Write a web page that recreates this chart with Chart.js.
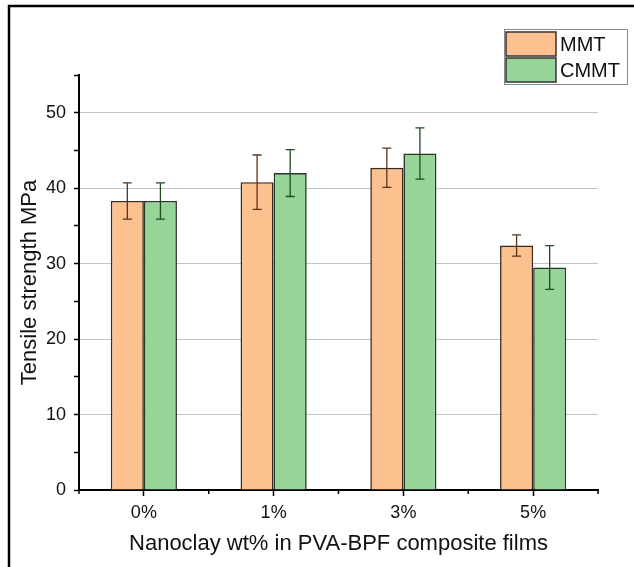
<!DOCTYPE html>
<html>
<head>
<meta charset="utf-8">
<script src="https://cdn.jsdelivr.net/npm/chart.js@4.4.1/dist/chart.umd.min.js"></script>
<style>
  html, body { margin: 0; padding: 0; background: #fff; }
  #c { display: block; }
</style>
</head>
<body>
<canvas id="c" width="634" height="567"></canvas>
<script>
const categories = ['0%', '1%', '3%', '5%'];
const seriesNames = ['MMT', 'CMMT'];
const mmtValues = [38.3, 40.8, 42.7, 32.4];
const cmmtValues = [38.3, 42.0, 44.6, 29.5];
const mmtErrors = [2.4, 3.6, 2.6, 1.4];
const cmmtErrors = [2.4, 3.1, 3.4, 2.9];
const yTickValues = [0, 10, 20, 30, 40, 50];

const FONT = '"Liberation Sans", Arial, sans-serif';

const errorBarPlugin = {
  id: 'errorBars',
  afterDatasetsDraw(chart) {
    const ctx = chart.ctx;
    const y = chart.scales.y;
    chart.data.datasets.forEach((ds, di) => {
      const meta = chart.getDatasetMeta(di);
      ctx.save();
      ctx.strokeStyle = ds.errorColor;
      ctx.lineWidth = 1.3;
      meta.data.forEach((bar, i) => {
        const v = ds.data[i], e = ds.errors[i];
        const yt = y.getPixelForValue(v + e);
        const yb = y.getPixelForValue(v - e);
        const x = bar.x;
        const cap = 4.5;
        ctx.beginPath();
        ctx.moveTo(x, yt); ctx.lineTo(x, yb);
        ctx.moveTo(x - cap, yt); ctx.lineTo(x + cap, yt);
        ctx.moveTo(x - cap, yb); ctx.lineTo(x + cap, yb);
        ctx.stroke();
      });
      ctx.restore();
    });
  }
};

// minor ticks on the x axis at category boundaries
const xMinorTicksPlugin = {
  id: 'xMinorTicks',
  afterDraw(chart) {
    const xs = chart.scales.x;
    const ctx = chart.ctx;
    const n = xs.ticks.length;
    ctx.save();
    ctx.strokeStyle = '#000';
    ctx.lineWidth = 1.5;
    ctx.beginPath();
    for (let i = 0; i <= n; i++) {
      let px;
      if (i === 0) px = xs.left;
      else if (i === n) px = xs.right;
      else px = (xs.getPixelForTick(i - 1) + xs.getPixelForTick(i)) / 2;
      ctx.moveTo(px, xs.top);
      ctx.lineTo(px, xs.top + 4);
    }
    ctx.stroke();
    ctx.restore();
  }
};

const framePlugin = {
  id: 'frame',
  beforeDraw(chart) {
    const ctx = chart.ctx;
    ctx.save();
    ctx.fillStyle = '#ffffff';
    ctx.fillRect(0, 0, chart.width, chart.height);
    ctx.strokeStyle = '#000';
    ctx.lineWidth = 2.5;
    ctx.strokeRect(9, 6, 700, 700);
    ctx.restore();
  },
  afterDraw(chart) {
    const ctx = chart.ctx;
    ctx.save();
    const bx = 504, by = 29, bw = 123, bh = 55;
    ctx.fillStyle = '#ffffff';
    ctx.fillRect(bx, by, bw, bh);
    ctx.strokeStyle = '#8a8a8a';
    ctx.lineWidth = 1;
    ctx.strokeRect(bx + 0.5, by + 0.5, bw, bh);
    chart.data.datasets.forEach((ds, i) => {
      const ry = by + 3 + i * 26;
      ctx.fillStyle = ds.backgroundColor;
      ctx.fillRect(506, ry, 50, 24);
      ctx.strokeStyle = '#333';
      ctx.lineWidth = 1.5;
      ctx.strokeRect(506, ry, 50, 24);
      ctx.fillStyle = '#111';
      ctx.font = '20px ' + FONT;
      ctx.textBaseline = 'middle';
      ctx.textAlign = 'left';
      ctx.fillText(ds.label, 560, ry + 13);
    });
    ctx.restore();
  }
};

new Chart(document.getElementById('c'), {
  type: 'bar',
  data: {
    labels: categories,
    datasets: [
      {
        label: seriesNames[0],
        data: mmtValues,
        errors: mmtErrors,
        backgroundColor: '#fcc18f',
        borderColor: '#3a2a20',
        errorColor: '#5a3418',
        borderWidth: 1.6,
        categoryPercentage: 0.51,
        barPercentage: 1.0
      },
      {
        label: seriesNames[1],
        data: cmmtValues,
        errors: cmmtErrors,
        backgroundColor: '#97d497',
        borderColor: '#25382a',
        errorColor: '#1f4a22',
        borderWidth: 1.6,
        categoryPercentage: 0.51,
        barPercentage: 1.0
      }
    ]
  },
  options: {
    responsive: false,
    animation: false,
    devicePixelRatio: 1,
    layout: { padding: { left: 0, right: 36, top: 75, bottom: 0 } },
    plugins: {
      legend: { display: false },
      tooltip: { enabled: false }
    },
    scales: {
      x: {
        afterFit(scale) { scale.height = 77; },
        grid: {
          offset: false,
          drawOnChartArea: false,
          drawTicks: true,
          tickLength: 6,
          tickColor: '#000',
          tickWidth: 1.5
        },
        border: { display: true, color: '#000', width: 2 },
        ticks: {
          color: '#111',
          font: { family: FONT, size: 18 },
          padding: 6
        },
        title: {
          display: true,
          text: 'Nanoclay wt% in PVA-BPF composite films',
          color: '#111',
          font: { family: FONT, size: 22 },
          padding: { top: 0, bottom: 10 }
        }
      },
      y: {
        min: 0,
        max: 55,
        afterFit(scale) { scale.width = 79; },
        afterBuildTicks(scale) {
          const t = [];
          for (let v = 0; v <= 55; v += 5) t.push({ value: v });
          scale.ticks = t;
        },
        grid: {
          color: (c) => (c.tick && yTickValues.includes(c.tick.value) && c.tick.value !== 0) ? '#c4c4c4' : 'rgba(0,0,0,0)',
          lineWidth: 1,
          tickColor: '#000',
          tickLength: 5,
          tickWidth: 1.5,
          drawTicks: true
        },
        border: { display: true, color: '#000', width: 2 },
        ticks: {
          color: '#111',
          font: { family: FONT, size: 18 },
          padding: 8,
          callback: (v) => yTickValues.includes(v) ? String(v) : ''
        },
        title: {
          display: true,
          text: 'Tensile strength MPa',
          color: '#111',
          font: { family: FONT, size: 22 },
          padding: { top: 17, bottom: 0 }
        }
      }
    }
  },
  plugins: [framePlugin, errorBarPlugin, xMinorTicksPlugin]
});
</script>
</body>
</html>
